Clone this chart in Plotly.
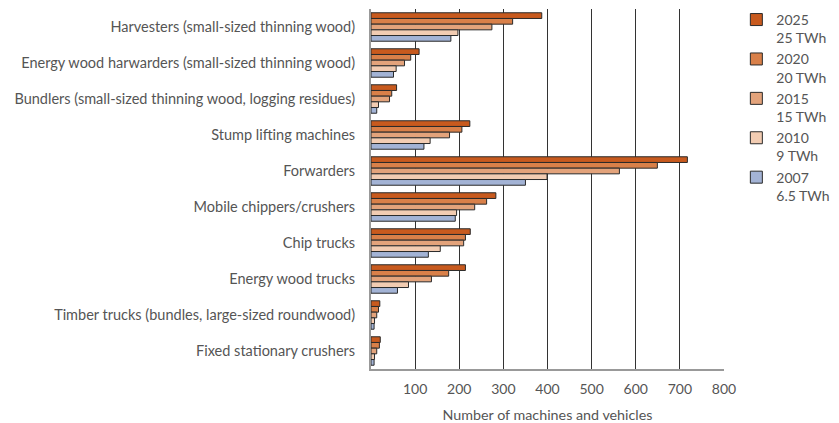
import plotly.graph_objects as go

categories = [
    "Harvesters (small-sized thinning wood)",
    "Energy wood harwarders (small-sized thinning wood)",
    "Bundlers (small-sized thinning wood, logging residues)",
    "Stump lifting machines",
    "Forwarders",
    "Mobile chippers/crushers",
    "Chip trucks",
    "Energy wood trucks",
    "Timber trucks (bundles, large-sized roundwood)",
    "Fixed stationary crushers",
]

series_names = ["2025<br>25 TWh", "2020<br>20 TWh", "2015<br>15 TWh", "2010<br>9 TWh", "2007<br>6.5 TWh"]
v2025 = [387, 109, 58, 224, 717, 283, 225, 214, 20, 21]
v2020 = [321, 90, 47, 206, 649, 262, 214, 176, 17, 19]
v2015 = [274, 76, 42, 178, 563, 235, 210, 137, 13, 13]
v2010 = [197, 57, 17, 134, 399, 194, 157, 85, 8, 8]
v2007 = [181, 51, 13, 120, 350, 191, 130, 60, 7, 7]
series_values = [v2025, v2020, v2015, v2010, v2007]
colors = ["#C85A1E", "#D98049", "#E3A37B", "#F2CCB2", "#A3B3D5"]

tick_vals = [100, 200, 300, 400, 500, 600, 700, 800]

fig = go.Figure()
for name, vals, col in zip(series_names, series_values, colors):
    fig.add_trace(go.Bar(
        y=categories, x=vals, name=name, orientation="h",
        marker=dict(color=col, line=dict(color="#2a2a2a", width=1)),
    ))

font = "Lato, 'Open Sans', sans-serif"
fig.update_layout(
    width=831, height=415,
    margin=dict(l=363, r=115, t=1, b=54, autoexpand=False),
    barmode="group", bargap=0.21, bargroupgap=0,
    plot_bgcolor="white", paper_bgcolor="white",
    font=dict(family=font, size=14, color="#555"),
    legend=dict(x=1.035, y=1.014, xanchor="left", yanchor="top",
                font=dict(size=14, color="#555"), tracegroupgap=13.5,
                itemwidth=30, valign="top"),
    showlegend=True,
)
fig.update_xaxes(range=[0, 800], tickvals=tick_vals, showgrid=True,
                 gridcolor="#333", gridwidth=1, showline=True,
                 linecolor="#999", linewidth=1.5, zeroline=False,
                 ticks="", tickfont=dict(size=14, color="#555"),
                 automargin=False, ticklabelstandoff=6,
                 title=dict(text="Number of machines and vehicles",
                            font=dict(size=14.3, color="#555"), standoff=19))
fig.update_yaxes(autorange="reversed", showline=True, linecolor="#999",
                 linewidth=2, ticks="", showgrid=False, automargin=False,
                 ticklabelstandoff=11,
                 tickfont=dict(size=14.5, color="#555"))

fig.write_html("out.html")
